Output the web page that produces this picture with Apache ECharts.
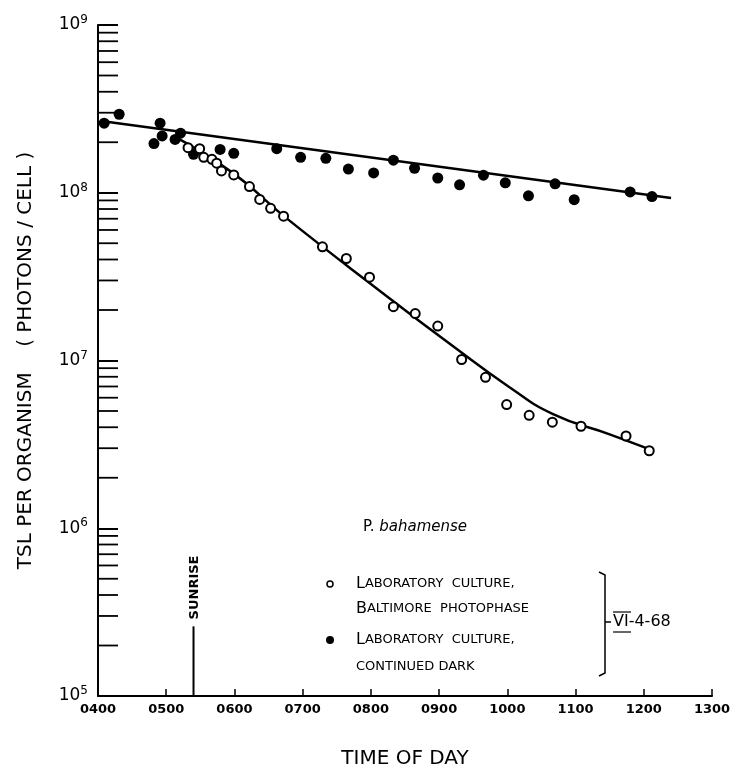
<!DOCTYPE html>
<html>
<head>
<meta charset="utf-8">
<script src="https://cdn.jsdelivr.net/npm/echarts@6/dist/echarts.min.js"></script>
<style>html,body{margin:0;padding:0;background:#fff}#chart{width:738px;height:774px}</style>
</head>
<body>
<div id="chart"></div>
<script>
// time of day in hours, TSL as log10(photons/cell)
var darkHours = [4.09, 4.31, 4.82, 4.91, 4.94, 5.13, 5.21, 5.40, 5.79, 5.99, 6.62, 6.97, 7.34, 7.67, 8.04, 8.33, 8.64, 8.98, 9.30, 9.65, 9.97, 10.31, 10.70, 10.98, 11.80, 12.12];
var darkLog = [8.415, 8.468, 8.293, 8.415, 8.339, 8.318, 8.355, 8.229, 8.258, 8.235, 8.263, 8.211, 8.205, 8.141, 8.118, 8.194, 8.146, 8.088, 8.047, 8.105, 8.059, 7.982, 8.053, 7.959, 8.005, 7.977];
var lightHours = [5.32, 5.49, 5.55, 5.67, 5.74, 5.81, 5.99, 6.22, 6.37, 6.53, 6.72, 7.29, 7.64, 7.98, 8.33, 8.65, 8.98, 9.33, 9.68, 9.99, 10.32, 10.66, 11.08, 11.74, 12.08];
var lightLog = [8.269, 8.263, 8.211, 8.199, 8.176, 8.130, 8.106, 8.037, 7.960, 7.907, 7.860, 7.678, 7.608, 7.497, 7.321, 7.280, 7.205, 7.006, 6.900, 6.737, 6.673, 6.632, 6.608, 6.550, 6.462];
// fitted curves
var darkFitHours = [4.1, 12.4];
var darkFitLog = [8.425, 7.969];
var lightFitHours = [5.11, 5.99, 6.72, 8.19, 9.22, 10.0, 10.67, 11.5, 12.05];
var lightFitLog = [8.337, 8.114, 7.862, 7.397, 7.08, 6.85, 6.68, 6.56, 6.476];
var sunrise = 5.40;
var sunriseTop = 2.6e5;
var xTicks = ['0400', '0500', '0600', '0700', '0800', '0900', '1000', '1100', '1200', '1300'];
var decades = [5, 6, 7, 8];
var minorSteps = [2, 3, 4, 5, 6, 7, 8, 9];

function pts(h, l) {
    return h.map(function (v, i) { return [v, Math.pow(10, l[i])]; });
}

var font = 'DejaVu Sans';
var myChart = echarts.init(document.getElementById('chart'));
var option = {
    animation: false,
    grid: {left: 98, right: 26, top: 25, bottom: 65},
    xAxis: {
        type: 'value', min: 4, max: 13, interval: 1,
        axisLine: {lineStyle: {color: '#000', width: 2}},
        axisTick: {inside: true, length: 7, lineStyle: {color: '#000', width: 1.5}},
        splitLine: {show: false},
        axisLabel: {color: '#000', fontFamily: font, fontSize: 13, fontWeight: 'bold', margin: 7, formatter: function (v) { return xTicks[Math.round(v) - 4]; }},
        name: 'TIME OF DAY', nameLocation: 'middle', nameGap: 53,
        nameTextStyle: {color: '#000', fontFamily: font, fontSize: 20}
    },
    yAxis: {
        type: 'log', logBase: 10, min: 1e5, max: 1e9,
        axisLine: {lineStyle: {color: '#000', width: 2}},
        axisTick: {inside: true, length: 20, lineStyle: {color: '#000', width: 2}},
        splitLine: {show: false},
        axisLabel: {
            color: '#000', fontFamily: font, margin: 10,
            formatter: function (v) { return '{b|10}{s|' + Math.round(Math.log10(v)) + '}'; },
            rich: {b: {fontSize: 17, color: '#000', fontFamily: font}, s: {fontSize: 12, color: '#000', fontFamily: font, verticalAlign: 'top', padding: [0, 0, 10, 0]}}
        },
        name: 'TSL PER ORGANISM    ( PHOTONS / CELL )', nameLocation: 'middle', nameGap: 62,
        nameTextStyle: {color: '#000', fontFamily: font, fontSize: 20}
    },
    series: [
        {type: 'line', data: pts(darkFitHours, darkFitLog), symbol: 'none', lineStyle: {color: '#000', width: 2.5}, z: 2},
        {type: 'line', data: pts(lightFitHours, lightFitLog), smooth: 0.5, symbol: 'none', lineStyle: {color: '#000', width: 2.5}, z: 2},
        {type: 'scatter', data: pts(darkHours, darkLog), symbol: 'circle', symbolSize: 11, itemStyle: {color: '#000', opacity: 1}, z: 3},
        {type: 'scatter', data: pts(lightHours, lightLog), symbol: 'circle', symbolSize: 9, itemStyle: {color: '#fff', borderColor: '#000', borderWidth: 2, opacity: 1}, z: 4},
        {type: 'line', data: [[sunrise, 1e5], [sunrise, sunriseTop]], symbol: 'none', lineStyle: {color: '#000', width: 2}, silent: true}
    ]
};
myChart.setOption(option);

// log minor ticks drawn from the axis scale
var g = [];
decades.forEach(function (d) {
    minorSteps.forEach(function (m) {
        var p = myChart.convertToPixel({gridIndex: 0}, [4, m * Math.pow(10, d)]);
        g.push({type: 'line', shape: {x1: p[0], y1: p[1], x2: p[0] + 20, y2: p[1]}, style: {stroke: '#000', lineWidth: 1.8}});
    });
});

var sp = myChart.convertToPixel({gridIndex: 0}, [sunrise, sunriseTop]);
var t = {fontFamily: font, fill: '#000'};
function lab(first, rest) {
    return {rich: {a: {fontFamily: font, fontSize: 16}, b: {fontFamily: font, fontSize: 13}}, text: '{a|' + first + '}{b|' + rest + '}', verticalAlign: 'middle', fill: '#000'};
}
g.push(
    {type: 'text', x: sp[0] + 1, y: sp[1] - 7, rotation: Math.PI / 2, style: Object.assign({text: 'SUNRISE', fontSize: 13, fontWeight: 'bold', align: 'left', verticalAlign: 'middle'}, t)},
    {type: 'text', x: 363, y: 527, style: {rich: {a: {fontFamily: font, fontSize: 15}, b: {fontFamily: font, fontSize: 15, fontStyle: 'italic'}}, text: '{a|P. }{b|bahamense}', verticalAlign: 'middle'}},
    {type: 'circle', shape: {cx: 330, cy: 584, r: 3}, style: {fill: '#fff', stroke: '#000', lineWidth: 1.5}},
    {type: 'text', x: 356, y: 584, style: lab('L', 'ABORATORY  CULTURE,')},
    {type: 'text', x: 356, y: 609, style: lab('B', 'ALTIMORE  PHOTOPHASE')},
    {type: 'circle', shape: {cx: 330, cy: 640, r: 4}, style: {fill: '#000'}},
    {type: 'text', x: 356, y: 640, style: lab('L', 'ABORATORY  CULTURE,')},
    {type: 'text', x: 356, y: 667, style: Object.assign({text: 'CONTINUED DARK', fontSize: 13, verticalAlign: 'middle'}, t)},
    {type: 'polyline', shape: {points: [[599, 572], [605, 575], [605, 673], [599, 676]]}, style: {stroke: '#000', lineWidth: 1.5, fill: null}},
    {type: 'line', shape: {x1: 605, y1: 622, x2: 611, y2: 622}, style: {stroke: '#000', lineWidth: 1.5}},
    {type: 'text', x: 613, y: 622, style: Object.assign({text: 'VI-4-68', fontSize: 16, verticalAlign: 'middle'}, t)},
    {type: 'line', shape: {x1: 613, y1: 612, x2: 631, y2: 612}, style: {stroke: '#000', lineWidth: 1.2}},
    {type: 'line', shape: {x1: 613, y1: 632, x2: 631, y2: 632}, style: {stroke: '#000', lineWidth: 1.2}}
);
myChart.setOption({graphic: g});
</script>
</body>
</html>
